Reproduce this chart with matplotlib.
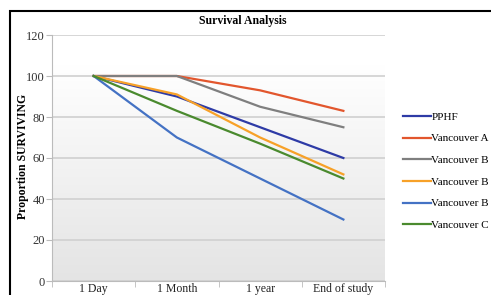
import matplotlib
matplotlib.use("Agg")
import matplotlib.pyplot as plt
import numpy as np
from matplotlib.patches import Rectangle
from matplotlib.colors import LinearSegmentedColormap

categories = ["1 Day", "1 Month", "1 year", "End of study"]
series_names = ["PPHF", "Vancouver A", "Vancouver B", "Vancouver B", "Vancouver B", "Vancouver C"]
pphf = [100, 90, 75, 60]
van_a = [100, 100, 93, 83]
van_b1 = [100, 100, 85, 75]
van_b2 = [100, 91, 70, 52]
van_b3 = [100, 70, 50, 30]
van_c = [100, 83, 67, 50]
colors = ["#2E3BA6", "#E2562D", "#7F7F7F", "#F7A128", "#4472C4", "#4A8A2E"]
yticks = [0, 20, 40, 60, 80, 100, 120]

plt.rcParams['font.family'] = ['Liberation Serif', 'DejaVu Serif']

fig = plt.figure(figsize=(4.91, 2.95), dpi=100)
ax = fig.add_axes([52/491, 1 - 281/295, 333/491, (281-35)/295])

x = np.arange(len(categories))
all_series = [pphf, van_a, van_b1, van_b2, van_b3, van_c]
for vals, name, c in zip(all_series, series_names, colors):
    ax.plot(x, vals, color=c, lw=1.6, label=name, zorder=3)

ax.set_xlim(-0.5, len(categories) - 0.5)
ax.set_yticks(yticks)
ax.set_xticks(x)
ax.set_xticklabels(categories, fontsize=8.5)
ax.set_xticks(np.arange(-0.5, len(categories)), minor=True)
ax.tick_params(axis='x', which='major', length=0, pad=1.5, colors='#222222')
ax.tick_params(axis='x', which='minor', length=4, color='#bbbbbb', direction='out')
ax.tick_params(axis='y', length=4, color='#bbbbbb', labelsize=9, labelcolor='#333333', pad=1)
ax.grid(axis='y', color='#d0d0d0', lw=1.2, zorder=1)
for s in ['top', 'right']:
    ax.spines[s].set_visible(False)
ax.spines['left'].set_color('#bbbbbb')
ax.spines['bottom'].set_color('#bbbbbb')

grad = np.linspace(0, 1, 256).reshape(-1, 1)
cmap = LinearSegmentedColormap.from_list('g', ['#e4e4e4', '#ffffff'])
ax.imshow(grad, aspect='auto', cmap=cmap, origin='lower',
          extent=[-0.5, len(categories) - 0.5, 0, 105], zorder=0)
ax.set_ylim(0, 120)

fig.text(23/491, 1 - 156/295, "Proportion SURVIVING", rotation=90, ha='center', va='center',
         fontsize=8.5, fontweight='bold')
fig.text(243/491, 1 - 21/295, "Survival Analysis", ha='center', va='center',
         fontsize=8.5, fontweight='bold')

leg = ax.legend(loc='upper left', bbox_to_anchor=(403/491, 1 - 112/295),
                bbox_transform=fig.transFigure, frameon=False, fontsize=8,
                handlelength=2.5, handletextpad=0.05, labelspacing=1.07,
                borderaxespad=0, borderpad=0)

fig.add_artist(Rectangle((10/491, -0.1), 1.2, 1 - 11/295 + 0.1, transform=fig.transFigure,
                         fill=False, edgecolor='black', lw=1.5))

fig.savefig("out.png", dpi=100)
